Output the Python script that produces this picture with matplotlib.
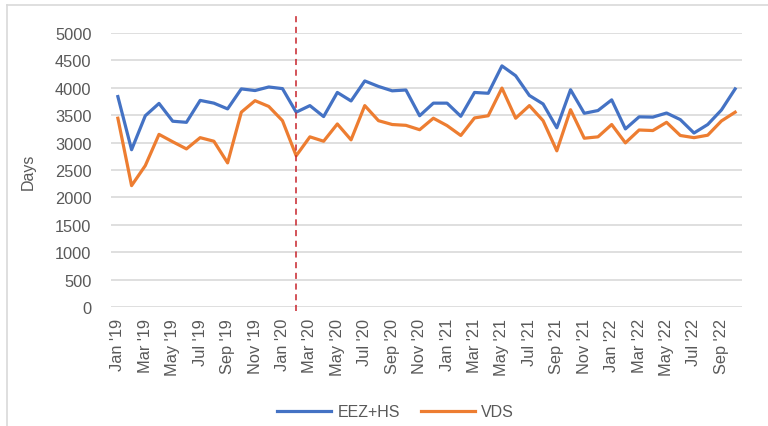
import matplotlib
matplotlib.use('Agg')
import matplotlib.pyplot as plt
from matplotlib.lines import Line2D

# monthly values Jan 2019 - Oct 2022
month_names = ['Jan', 'Feb', 'Mar', 'Apr', 'May', 'Jun', 'Jul', 'Aug', 'Sep', 'Oct', 'Nov', 'Dec']
years = ['19', '20', '21', '22']
months = [m + " '" + y for y in years for m in month_names][:46]

eez_hs = [3840, 2870, 3490, 3715, 3390, 3370, 3770, 3720, 3615, 3980,
          3950, 4015, 3985, 3555, 3675, 3475, 3915, 3760, 4125, 4025,
          3945, 3960, 3490, 3720, 3720, 3480, 3915, 3900, 4400, 4220,
          3860, 3705, 3270, 3965, 3535, 3585, 3780, 3250, 3470, 3465,
          3540, 3420, 3175, 3330, 3595, 3980]
vds = [3445, 2215, 2580, 3150, 3015, 2885, 3090, 3025, 2630, 3555,
       3765, 3660, 3400, 2760, 3105, 3025, 3340, 3050, 3675, 3400,
       3330, 3315, 3235, 3445, 3310, 3130, 3450, 3490, 3995, 3445,
       3675, 3400, 2850, 3600, 3080, 3105, 3330, 2995, 3230, 3220,
       3370, 3130, 3090, 3135, 3395, 3555]
split_month = "Feb '20"

grey = '#595959'
fig = plt.figure(figsize=(7.68, 4.27), dpi=100)
ax = fig.add_axes([111 / 768, 1 - 308 / 427, (742 - 111) / 768, 274 / 427])

x = list(range(len(months)))
ax.plot(x, eez_hs, color='#4472C4', lw=2.3, label='EEZ+HS', solid_joinstyle='round')
ax.plot(x, vds, color='#ED7D31', lw=2.3, label='VDS', solid_joinstyle='round')

xs = months.index(split_month)
ax.axvline(xs, ymin=-0.015, ymax=1.062, color='#C8232B', lw=1.1, ls=(0, (4, 3)), clip_on=False)

ax.set_xlim(-0.5, len(months) - 0.5)
ax.set_ylim(0, 5000)
ax.set_yticks(range(0, 5001, 500))
ax.yaxis.grid(True, color='#D9D9D9', lw=1.2)
ax.set_axisbelow(True)
for s in ax.spines.values():
    s.set_visible(False)
ax.set_xticks(x[::2])
ax.set_xticklabels(months[::2], rotation=90, fontsize=11.8, color=grey, family='Liberation Sans')
ax.tick_params(axis='x', length=0, pad=8)
ax.tick_params(axis='y', length=0, pad=14, labelsize=11.8, labelcolor=grey)
for t in ax.get_yticklabels():
    t.set_family('Liberation Sans')

fig.text(28 / 768, 1 - 172 / 427, 'Days', rotation=90, ha='center', va='center',
         fontsize=11.5, color=grey, family='Liberation Sans')

fig.legend(loc='center', bbox_to_anchor=(0.515, 1 - 413 / 427), ncol=2, frameon=False,
           handlelength=3.4, columnspacing=1.3, handletextpad=0.4,
           prop={'family': 'Liberation Sans', 'size': 11.5}, labelcolor=grey)

# chart area border (top and left only visible)
fig.add_artist(Line2D([7 / 768, 1], [1 - 6 / 427] * 2, transform=fig.transFigure, color='#D9D9D9', lw=1.2))
fig.add_artist(Line2D([7 / 768] * 2, [0, 1 - 6 / 427], transform=fig.transFigure, color='#D9D9D9', lw=1.2))

fig.savefig('out.png', dpi=100)
